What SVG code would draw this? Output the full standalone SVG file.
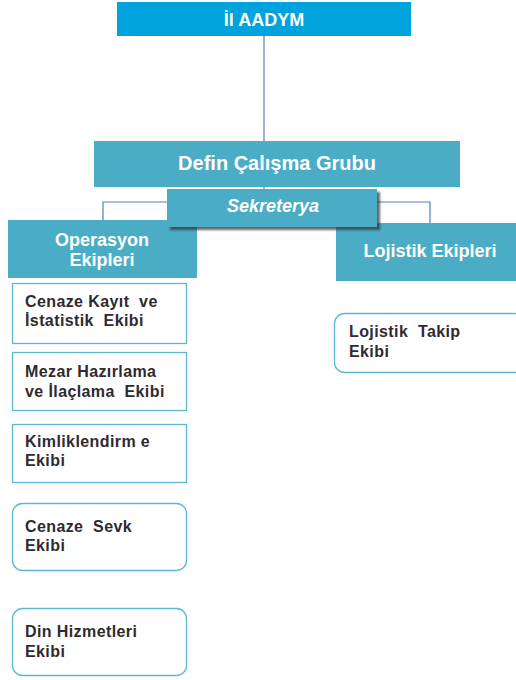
<svg xmlns="http://www.w3.org/2000/svg" width="516" height="680" viewBox="0 0 516 680">
<defs>
<filter id="sh" x="-10%" y="-20%" width="130%" height="160%">
<feDropShadow dx="3" dy="3" stdDeviation="1.2" flood-color="#333" flood-opacity="0.75"/>
</filter>
</defs>
<style>
.hd{fill:#4BACC6}
.top{fill:#00A3DD}
.ht{font-family:"Liberation Sans",Arial,sans-serif;font-weight:bold;fill:#fff;text-anchor:middle}
.ch{fill:#fff;stroke:#5CB8D2;stroke-width:1.3}
.ct{font-family:"Liberation Sans",Arial,sans-serif;font-weight:bold;font-size:16px;letter-spacing:0.4px;fill:#2f2a30}
.ln{stroke:#4F81BD;stroke-width:1.2;fill:none}
</style>
<g id="connectors">
<line class="ln" x1="264" y1="36" x2="264" y2="141"/>
<line class="ln" x1="264" y1="187" x2="264" y2="190"/>
<polyline class="ln" points="103,220 103,202 430,202 430,223"/>
</g>
<g id="il-aadym">
<rect class="top" x="117" y="2" width="294" height="34"/>
<text class="ht" x="264" y="26" font-size="18">İl AADYM</text>
</g>
<g id="defin">
<rect class="hd" x="94" y="141" width="366" height="46"/>
<text class="ht" x="277" y="170" font-size="20">Defin Çalışma Grubu</text>
</g>
<g id="operasyon">
<rect class="hd" x="8" y="220" width="189" height="58"/>
<text class="ht" x="102" y="246" font-size="18">Operasyon</text>
<text class="ht" x="102" y="266" font-size="18">Ekipleri</text>
</g>
<g id="lojistik">
<rect class="hd" x="336" y="223" width="190" height="58"/>
<text class="ht" x="430" y="257" font-size="18">Lojistik Ekipleri</text>
</g>
<g id="sekreterya">
<rect class="hd" x="167" y="189" width="210" height="38" filter="url(#sh)"/>
<text class="ht" x="273" y="212" font-size="18" font-style="italic">Sekreterya</text>
</g>
<g id="cenaze-kayit">
<rect class="ch" x="12.5" y="283.5" width="174" height="60"/>
<text class="ct" x="25" y="307" xml:space="preserve">Cenaze Kayıt  ve</text>
<text class="ct" x="25" y="326" xml:space="preserve">İstatistik  Ekibi</text>
</g>
<g id="mezar">
<rect class="ch" x="12.5" y="352.5" width="174" height="58"/>
<text class="ct" x="25" y="377" xml:space="preserve">Mezar Hazırlama</text>
<text class="ct" x="25" y="397" xml:space="preserve">ve İlaçlama  Ekibi</text>
</g>
<g id="kimlik">
<rect class="ch" x="12.5" y="424.5" width="174" height="58"/>
<text class="ct" x="25" y="447" xml:space="preserve">Kimliklendirm e</text>
<text class="ct" x="25" y="466">Ekibi</text>
</g>
<g id="cenaze-sevk">
<rect class="ch" x="12.5" y="503.5" width="174" height="67" rx="10"/>
<text class="ct" x="25" y="532" xml:space="preserve">Cenaze  Sevk</text>
<text class="ct" x="25" y="551">Ekibi</text>
</g>
<g id="din">
<rect class="ch" x="12.5" y="608.5" width="174" height="67" rx="10"/>
<text class="ct" x="25" y="637">Din Hizmetleri</text>
<text class="ct" x="25" y="657">Ekibi</text>
</g>
<g id="lojistik-takip">
<rect class="ch" x="334.5" y="313.5" width="190" height="59" rx="10"/>
<text class="ct" x="349" y="337" xml:space="preserve">Lojistik  Takip</text>
<text class="ct" x="349" y="357">Ekibi</text>
</g>
</svg>
